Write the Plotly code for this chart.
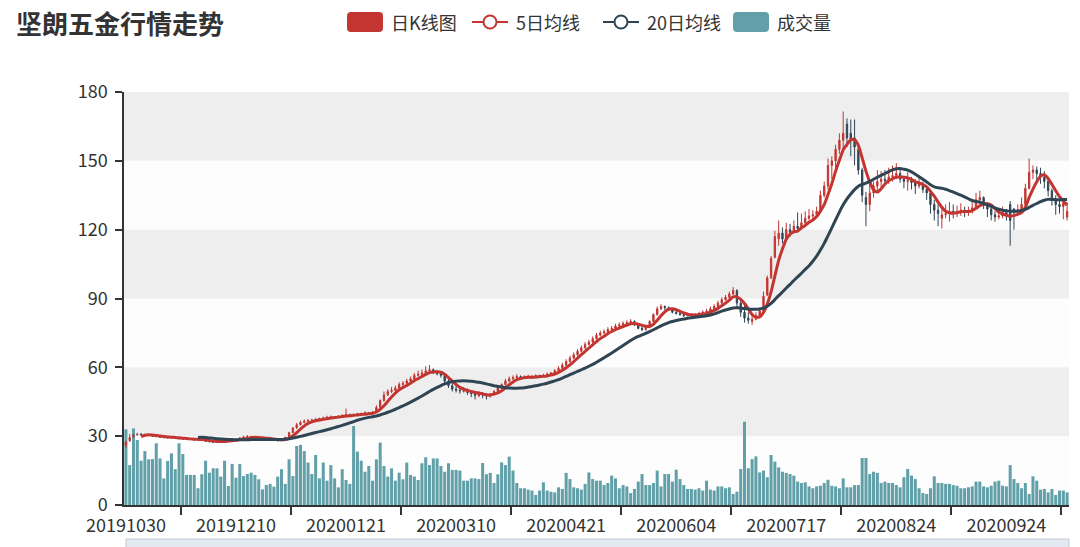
import plotly.graph_objects as go

# ---------------- data ----------------
title_text = "坚朗五金行情走势"
series_names = ["日K线图", "5日均线", "20日均线", "成交量"]
tick_dates = ["20191030", "20191210", "20200121", "20200310", "20200421",
              "20200604", "20200717", "20200824", "20200924"]
label_step = 29

open_ = [26.0, 28.0, 29.8, 30.6, 30.9, 30.7, 30.6, 30.2, 29.8, 29.9,
         29.3, 29.5, 29.2, 29.6, 29.0, 28.6, 28.8, 28.5, 28.8, 28.3,
         28.5, 28.1, 27.8, 27.5, 27.3, 27.5, 27.9, 28.2, 28.4, 28.1,
         28.7, 29.2, 29.7, 29.9, 29.5, 29.3, 29.0, 28.8, 29.1, 28.6,
         28.2, 28.0, 28.4, 29.6, 31.6, 33.6, 35.0, 36.0, 36.6, 36.9,
         37.0, 37.3, 37.6, 37.8, 38.2, 38.4, 38.3, 38.7, 39.0, 39.4,
         39.0, 39.3, 39.6, 39.8, 40.2, 39.8, 40.5, 42.6, 45.6, 48.0,
         49.5, 50.0, 51.0, 52.5, 53.0, 54.0, 55.0, 56.5, 57.0, 57.5,
         58.5, 59.0, 58.0, 57.2, 56.5, 54.0, 52.0, 50.5, 50.0, 49.5,
         50.2, 49.0, 48.5, 47.6, 48.5, 48.0, 47.4, 48.2, 49.5, 51.0,
         52.5, 54.0, 55.0, 55.5, 56.0, 55.3, 55.8, 56.0, 55.5, 56.3,
         56.0, 56.5, 57.0, 57.5, 58.5, 59.5, 61.0, 62.5, 64.0, 65.5,
         67.0, 68.5, 70.0, 71.0, 72.5, 74.0, 75.0, 75.5, 76.5, 77.0,
         78.0, 78.5, 79.0, 79.5, 80.0, 78.5, 77.0, 76.5, 77.5, 80.0,
         83.0, 85.5, 86.5, 86.0, 85.5, 84.0, 83.5, 83.0, 82.5, 83.0,
         82.5, 83.0, 83.5, 84.0, 84.5, 85.5, 86.5, 88.0, 89.5, 90.5,
         92.0, 93.5, 88.0, 84.0, 81.5, 80.0, 81.0, 82.5, 84.5, 91.5,
         99.0, 108.0, 116.0, 118.5, 116.0, 120.0, 119.0, 121.5, 120.5, 123.0,
         125.0, 126.0, 126.5, 128.0, 135.0, 139.0, 148.0, 150.0, 155.0, 159.0,
         166.0, 162.0, 160.0, 155.0, 146.0, 134.0, 131.0, 136.0, 139.0, 141.0,
         142.0, 141.5, 143.0, 143.5, 144.5, 142.0, 141.0, 141.5, 140.5, 139.0,
         140.0, 137.5, 136.0, 131.0, 128.5, 125.0, 126.5, 127.0, 128.0, 127.5,
         128.0, 128.5, 127.5, 128.0, 129.5, 133.0, 134.0, 131.0, 129.0, 126.5,
         125.5, 126.0, 127.5, 131.0, 129.0, 127.5, 128.5, 131.0, 138.0, 145.0,
         146.0, 144.5, 143.0, 141.0, 137.0, 133.0, 131.0, 130.0, 125.5]

high = [27.8, 31.0, 31.2, 31.5, 31.3, 31.0, 30.9, 30.6, 30.4, 30.2,
        29.9, 29.8, 30.0, 29.8, 29.4, 29.3, 29.0, 29.1, 29.0, 28.8,
        28.7, 28.3, 28.0, 27.8, 27.8, 28.2, 28.5, 28.8, 28.6, 28.9,
        29.6, 30.2, 30.4, 30.1, 29.8, 29.5, 29.3, 29.4, 29.2, 28.8,
        28.4, 28.6, 29.8, 31.9, 34.0, 35.8, 36.8, 37.3, 37.5, 37.6,
        38.0, 38.1, 38.5, 38.9, 39.0, 38.8, 39.2, 39.6, 42.0, 39.8,
        39.8, 40.2, 40.3, 40.8, 40.5, 41.0, 43.5, 46.0, 49.5, 50.5,
        51.5, 52.0, 53.5, 54.0, 55.0, 56.0, 57.5, 58.5, 59.0, 60.5,
        61.0, 59.5, 58.8, 58.0, 57.0, 55.0, 53.0, 52.0, 51.0, 51.5,
        50.8, 49.8, 49.0, 49.5, 49.2, 48.8, 48.8, 50.0, 51.5, 53.0,
        55.0, 56.0, 56.5, 57.0, 56.5, 56.5, 56.8, 56.5, 57.0, 56.8,
        57.2, 57.8, 58.0, 59.2, 60.5, 62.0, 63.5, 65.0, 66.5, 68.0,
        69.5, 71.0, 72.0, 73.5, 75.0, 76.0, 76.5, 77.5, 78.0, 79.0,
        79.5, 80.0, 80.5, 81.0, 80.5, 79.0, 77.8, 78.0, 80.5, 83.5,
        86.5, 87.5, 87.0, 86.5, 86.0, 84.8, 84.2, 83.5, 83.8, 83.5,
        83.6, 84.2, 84.8, 85.5, 86.5, 87.5, 89.0, 90.5, 91.5, 93.0,
        95.0, 94.0, 89.0, 88.5, 84.0, 83.5, 84.0, 86.0, 93.0, 100.0,
        108.5, 119.5, 124.0, 121.0, 123.0, 122.5, 124.0, 127.5, 127.0, 128.0,
        129.0, 128.5, 130.0, 137.0, 141.0, 151.0, 152.0, 157.0, 162.0, 171.5,
        168.5, 168.0, 168.0, 157.0, 147.0, 136.5, 140.0, 141.0, 146.0, 145.5,
        146.0, 147.0, 148.0, 149.0, 146.0, 143.5, 145.0, 143.0, 142.0, 142.5,
        141.0, 139.0, 137.5, 133.0, 131.0, 130.0, 131.0, 132.0, 131.0, 130.5,
        131.5, 130.0, 130.0, 132.0, 136.0, 137.0, 134.5, 132.0, 130.5, 128.0,
        129.0, 130.0, 129.0, 132.5, 129.5, 131.0, 134.0, 140.0, 151.0, 148.0,
        147.5, 147.0, 145.5, 142.0, 138.0, 135.0, 134.0, 133.0, 132.0]

low = [24.8, 27.5, 29.3, 30.2, 30.2, 30.1, 30.0, 29.7, 29.5, 29.3,
       29.1, 29.0, 29.0, 28.8, 28.6, 28.5, 28.3, 28.4, 28.2, 28.1,
       28.0, 27.6, 27.3, 27.1, 27.2, 27.4, 27.8, 28.0, 27.9, 28.0,
       28.6, 29.0, 29.5, 29.3, 29.1, 28.8, 28.6, 28.7, 28.4, 28.0,
       27.8, 27.9, 28.3, 29.4, 31.3, 33.2, 34.6, 35.6, 36.0, 36.4,
       36.7, 37.0, 37.2, 37.6, 37.9, 37.8, 38.1, 38.5, 38.8, 38.6,
       38.7, 39.0, 39.2, 39.5, 39.3, 39.5, 40.3, 42.3, 45.0, 47.5,
       48.8, 49.5, 50.5, 51.8, 52.5, 53.5, 54.5, 56.0, 56.5, 57.0,
       58.0, 57.0, 56.5, 55.5, 53.0, 51.0, 49.5, 49.0, 48.5, 49.0,
       48.0, 47.0, 46.0, 47.0, 46.5, 46.0, 46.8, 47.8, 49.0, 50.5,
       52.0, 53.5, 54.5, 55.0, 54.8, 55.0, 55.3, 55.0, 55.2, 55.5,
       55.8, 56.2, 56.6, 57.2, 58.0, 59.2, 60.5, 62.0, 63.5, 65.0,
       66.5, 68.0, 69.5, 70.5, 72.0, 73.5, 74.5, 75.0, 76.0, 76.5,
       77.5, 78.0, 78.5, 79.0, 78.0, 76.5, 75.8, 76.0, 77.0, 79.5,
       82.5, 85.0, 85.0, 84.8, 83.5, 83.0, 82.5, 82.0, 82.2, 82.0,
       82.0, 82.6, 83.0, 83.5, 84.0, 85.0, 86.0, 87.5, 89.0, 90.0,
       91.5, 86.0, 82.0, 79.5, 79.0, 78.5, 80.5, 82.0, 84.0, 91.0,
       98.5, 107.5, 113.0, 114.0, 115.0, 117.0, 118.5, 119.0, 120.0, 122.0,
       124.0, 124.5, 126.0, 127.5, 134.0, 137.5, 142.0, 146.0, 153.0, 155.0,
       156.0, 152.0, 148.0, 144.0, 132.0, 121.5, 128.0, 134.0, 136.0, 138.0,
       139.5, 140.0, 141.0, 142.0, 140.5, 138.0, 137.0, 137.5, 135.5, 138.0,
       136.0, 133.0, 127.0, 124.0, 121.5, 120.5, 125.0, 123.5, 125.0, 125.5,
       126.0, 125.5, 126.0, 127.0, 129.0, 131.5, 129.0, 125.5, 124.0, 123.5,
       124.5, 125.0, 124.0, 113.0, 120.0, 126.5, 128.0, 130.5, 137.5, 142.0,
       141.5, 140.0, 138.0, 134.5, 130.5, 126.5, 127.0, 124.5, 124.0]

close = [27.5, 29.5, 30.5, 30.8, 30.7, 30.6, 30.3, 30.0, 29.9, 29.6,
         29.5, 29.3, 29.6, 29.0, 28.9, 28.8, 28.6, 28.8, 28.4, 28.5,
         28.2, 27.8, 27.6, 27.4, 27.5, 27.9, 28.2, 28.4, 28.1, 28.6,
         29.2, 29.6, 29.9, 29.5, 29.3, 29.0, 28.8, 29.1, 28.6, 28.2,
         28.0, 28.3, 29.5, 31.5, 33.5, 35.0, 36.0, 36.5, 36.8, 37.0,
         37.3, 37.6, 37.9, 38.2, 38.4, 38.3, 38.7, 39.0, 39.4, 39.0,
         39.3, 39.6, 39.8, 40.2, 39.8, 40.4, 42.5, 45.5, 48.0, 49.5,
         50.0, 51.0, 52.5, 53.0, 54.0, 55.0, 56.5, 57.0, 57.5, 58.5,
         59.0, 58.0, 57.2, 56.5, 54.0, 52.0, 50.5, 50.0, 49.8, 50.2,
         49.0, 48.5, 47.8, 48.5, 48.0, 47.5, 48.2, 49.5, 51.0, 52.5,
         54.0, 55.0, 55.5, 56.0, 55.3, 55.8, 56.0, 55.5, 56.3, 56.0,
         56.5, 57.0, 57.5, 58.5, 59.5, 61.0, 62.5, 64.0, 65.5, 67.0,
         68.5, 70.0, 71.0, 72.5, 74.0, 75.0, 75.5, 76.5, 77.0, 78.0,
         78.5, 79.0, 79.5, 80.0, 78.5, 77.0, 76.5, 77.5, 80.0, 83.0,
         85.5, 86.5, 86.0, 85.5, 84.0, 83.5, 83.0, 82.5, 83.0, 82.5,
         83.0, 83.5, 84.0, 84.5, 85.5, 86.5, 88.0, 89.5, 90.5, 92.0,
         93.5, 88.0, 84.0, 81.5, 80.5, 81.0, 82.5, 84.5, 91.0, 99.0,
         107.5, 117.0, 118.5, 116.0, 120.0, 119.0, 121.5, 120.5, 123.0, 125.0,
         126.0, 126.5, 128.0, 135.0, 139.0, 148.0, 150.0, 155.0, 159.0, 162.0,
         160.0, 159.5, 156.0, 146.0, 135.0, 131.0, 136.0, 139.0, 141.0, 142.0,
         141.5, 143.0, 143.5, 144.5, 142.0, 141.0, 141.5, 140.5, 139.0, 140.0,
         137.5, 136.0, 131.0, 128.5, 127.0, 126.5, 127.0, 128.0, 127.5, 128.0,
         128.5, 127.5, 128.0, 129.5, 133.0, 134.0, 131.0, 129.0, 126.5, 125.5,
         126.0, 127.5, 126.0, 124.0, 127.5, 128.5, 131.0, 138.0, 145.0, 146.0,
         144.5, 143.0, 141.0, 137.0, 133.0, 131.0, 130.0, 131.5, 128.0]

volume = [33.0, 17.4, 33.4, 28.3, 19.3, 23.5, 19.9, 20.0, 26.9, 20.3,
          11.6, 19.2, 22.5, 15.6, 26.9, 22.2, 13.1, 13.1, 13.1, 7.3,
          13.4, 19.3, 14.1, 16.0, 16.0, 12.4, 19.3, 8.3, 17.9, 11.9,
          17.9, 12.6, 13.5, 14.1, 13.1, 11.2, 6.8, 8.7, 9.2, 8.0,
          12.4, 15.6, 9.2, 19.9, 12.6, 25.7, 26.2, 23.5, 18.5, 13.5,
          21.8, 11.6, 18.5, 10.6, 17.4, 11.6, 7.7, 15.6, 10.9, 9.2,
          34.4, 23.3, 19.3, 14.5, 17.0, 10.6, 19.9, 27.2, 17.0, 12.4,
          16.0, 10.6, 14.1, 11.2, 18.5, 13.1, 12.4, 10.9, 18.2, 20.8,
          17.4, 20.3, 20.3, 17.0, 14.5, 18.2, 15.3, 15.3,
          15.0, 10.6, 10.6, 11.6, 11.6, 11.3, 18.3, 13.4, 14.0, 9.6, 13.4, 18.6,
          17.4, 21.1, 15.0, 9.6, 7.3, 7.3, 6.7, 6.3, 4.4, 6.3,
          9.9, 6.3, 5.8, 5.5, 7.7, 7.0, 14.0, 11.3, 7.7, 7.3,
          6.7, 9.2, 14.2, 11.3, 10.6, 10.6, 8.7, 9.6, 12.8, 11.6,
          7.3, 8.7, 8.1, 5.2, 7.0, 10.2, 13.5, 8.7, 8.7, 9.6,
          15.0, 8.1, 13.5, 13.5, 10.2, 15.4, 11.3, 8.7, 7.0, 7.0,
          6.7, 7.3, 6.3, 10.6, 6.7, 6.3, 8.1, 8.1, 7.3, 7.7,
          4.8, 5.8, 15.7, 36.3, 16.0, 20.0, 21.2, 14.2, 15.0, 12.1,
          21.8, 18.9, 16.4, 14.5, 14.0, 13.5, 12.8, 10.2,
          9.6, 9.9, 8.1, 7.3, 8.1, 8.4, 9.6, 11.0, 8.4, 8.1,
          7.3, 11.6, 7.7, 7.7, 8.7, 8.7, 20.5, 20.5, 13.5, 14.5,
          14.0, 9.6, 10.2, 9.6, 9.6, 8.7, 7.7, 12.1, 15.7, 12.8,
          11.3, 7.3, 5.2, 4.8, 7.3, 12.5, 9.6, 9.6, 9.2, 9.2,
          8.7, 8.4, 7.3, 7.3, 7.7, 8.1, 10.2, 10.2, 8.1, 7.7,
          8.4, 10.2, 10.6, 8.4, 8.1, 17.4, 11.3, 9.6, 7.3, 9.6,
          4.8, 12.5, 10.6, 6.7, 7.0, 5.5, 7.0, 4.4, 6.3, 6.3, 5.5]

y_ticks = [0, 30, 60, 90, 120, 150, 180]

# ---------------- derived ----------------
N = len(close)
assert len(open_) == N and len(high) == N and len(low) == N and len(volume) == N
idx = list(range(N))


def moving_average(vals, n):
    out = []
    for i in range(len(vals)):
        if i < n - 1:
            out.append(None)
        else:
            out.append(round(sum(vals[i - n + 1:i + 1]) / n, 3))
    return out


ma5 = moving_average(close, 5)
ma20 = moving_average(close, 20)

UP = "#c23531"
DOWN = "#314656"
MA5_C = "#c23531"
MA20_C = "#2f4554"
VOL_C = "#61a0a8"
TXT = "#333333"
FONT = "Noto Sans CJK SC, Microsoft YaHei, sans-serif"

W, H = 1080, 547
ML, MR, MT, MB = 124, 11, 92, 42
TOP_PX, BOT_PX = MT, H - MB
PW = W - ML - MR
PH = BOT_PX - TOP_PX


def px(xp):
    return (xp - ML) / PW


def py(yp):
    return (BOT_PX - yp) / PH


fig = go.Figure()

fig.add_trace(go.Bar(x=idx, y=volume, name=series_names[3],
                     marker=dict(color=VOL_C, line=dict(width=0)),
                     hoverinfo="skip"))

fig.add_trace(go.Candlestick(
    x=idx, open=open_, high=high, low=low, close=close, name=series_names[0],
    increasing=dict(line=dict(color=UP, width=1), fillcolor=UP),
    decreasing=dict(line=dict(color=DOWN, width=1), fillcolor=DOWN),
    whiskerwidth=0))

fig.add_trace(go.Scatter(x=idx, y=ma5, name=series_names[1], mode="lines",
                         line=dict(color=MA5_C, width=3, shape="spline", smoothing=0.6)))
fig.add_trace(go.Scatter(x=idx, y=ma20, name=series_names[2], mode="lines",
                         line=dict(color=MA20_C, width=3, shape="spline", smoothing=0.6)))

shapes = []
# split areas (alternating bands)
for k in range(len(y_ticks) - 1):
    color = "rgba(250,250,250,0.3)" if k % 2 == 0 else "rgba(200,200,200,0.3)"
    shapes.append(dict(type="rect", xref="x domain", yref="y", x0=0, x1=1,
                       y0=y_ticks[k], y1=y_ticks[k + 1], fillcolor=color,
                       line=dict(width=0), layer="below"))


def rrect(x0, y0, x1, y1, r, color):
    pts = (f"M{px(x0 + r)},{py(y0)} L{px(x1 - r)},{py(y0)} "
           f"Q{px(x1)},{py(y0)} {px(x1)},{py(y0 + r)} "
           f"L{px(x1)},{py(y1 - r)} Q{px(x1)},{py(y1)} {px(x1 - r)},{py(y1)} "
           f"L{px(x0 + r)},{py(y1)} Q{px(x0)},{py(y1)} {px(x0)},{py(y1 - r)} "
           f"L{px(x0)},{py(y0 + r)} Q{px(x0)},{py(y0)} {px(x0 + r)},{py(y0)} Z")
    return dict(type="path", xref="paper", yref="paper", path=pts,
                fillcolor=color, line=dict(width=0))


LEG_Y = 22
legend_items = [
    ("rect", UP, series_names[0], 347),
    ("line", MA5_C, series_names[1], 472),
    ("line", MA20_C, series_names[2], 603),
    ("rect", VOL_C, series_names[3], 733),
]
annotations = []
for kind, col, label, x0 in legend_items:
    x1 = x0 + 36
    if kind == "rect":
        shapes.append(rrect(x0, LEG_Y - 10, x1, LEG_Y + 10, 4, col))
    else:
        shapes.append(dict(type="line", xref="paper", yref="paper",
                           x0=px(x0), x1=px(x1), y0=py(LEG_Y), y1=py(LEG_Y),
                           line=dict(color=col, width=2)))
        cx = (x0 + x1) / 2
        shapes.append(dict(type="circle", xref="paper", yref="paper",
                           x0=px(cx - 6.5), x1=px(cx + 6.5),
                           y0=py(LEG_Y + 6.5), y1=py(LEG_Y - 6.5),
                           fillcolor="white", line=dict(color=col, width=2)))
    annotations.append(dict(xref="paper", yref="paper", x=px(x1 + 6), y=py(LEG_Y),
                            xanchor="left", yanchor="middle", showarrow=False,
                            text=label, font=dict(family=FONT, size=18, color=TXT)))

annotations.append(dict(xref="paper", yref="paper", x=px(14), y=py(22),
                        xanchor="left", yanchor="middle", showarrow=False,
                        text="<b>" + title_text + "</b>",
                        font=dict(family=FONT, size=26, color=TXT)))

# data-zoom slider strip at the bottom
shapes.append(dict(type="rect", xref="paper", yref="paper",
                   x0=px(126), x1=px(1069), y0=py(539), y1=py(555),
                   fillcolor="rgba(220,227,240,0.8)",
                   line=dict(color="#c3c9d4", width=1)))

label_vals = [k * label_step for k in range(len(tick_dates))]
tick_marks = [k * label_step + label_step / 2 for k in range(len(tick_dates))]

fig.update_layout(
    width=W, height=H,
    margin=dict(l=ML, r=MR, t=MT, b=MB, pad=0, autoexpand=False),
    paper_bgcolor="white", plot_bgcolor="white",
    showlegend=False,
    bargap=0.2,
    boxgap=0.5,
    font=dict(family=FONT, size=18, color=TXT),
    shapes=shapes, annotations=annotations,
    xaxis=dict(range=[-0.5, N - 0.5], tickmode="array", tickvals=label_vals,
               ticktext=tick_dates, ticks="outside", ticklen=4,
               tickcolor="rgba(0,0,0,0)", showline=True, linecolor=TXT,
               linewidth=1.5, showgrid=False, zeroline=False, automargin=False,
               tickfont=dict(family=FONT, size=18, color=TXT),
               rangeslider=dict(visible=False),
               minor=dict(tickmode="array", tickvals=tick_marks, ticks="outside",
                          ticklen=8, tickcolor=TXT, tickwidth=1.5, showgrid=False)),
    yaxis=dict(range=[0, 180], tickmode="array", tickvals=y_ticks,
               ticks="outside", ticklen=7, tickcolor=TXT, tickwidth=1.5,
               showline=True, linecolor=TXT, linewidth=1.5, showgrid=False,
               zeroline=False, ticklabelstandoff=4, automargin=False,
               tickfont=dict(family=FONT, size=18, color=TXT)),
)

fig.write_html("out.html", config={"displayModeBar": False},
               post_script="document.body.style.margin='0';document.body.style.overflow='hidden';")
